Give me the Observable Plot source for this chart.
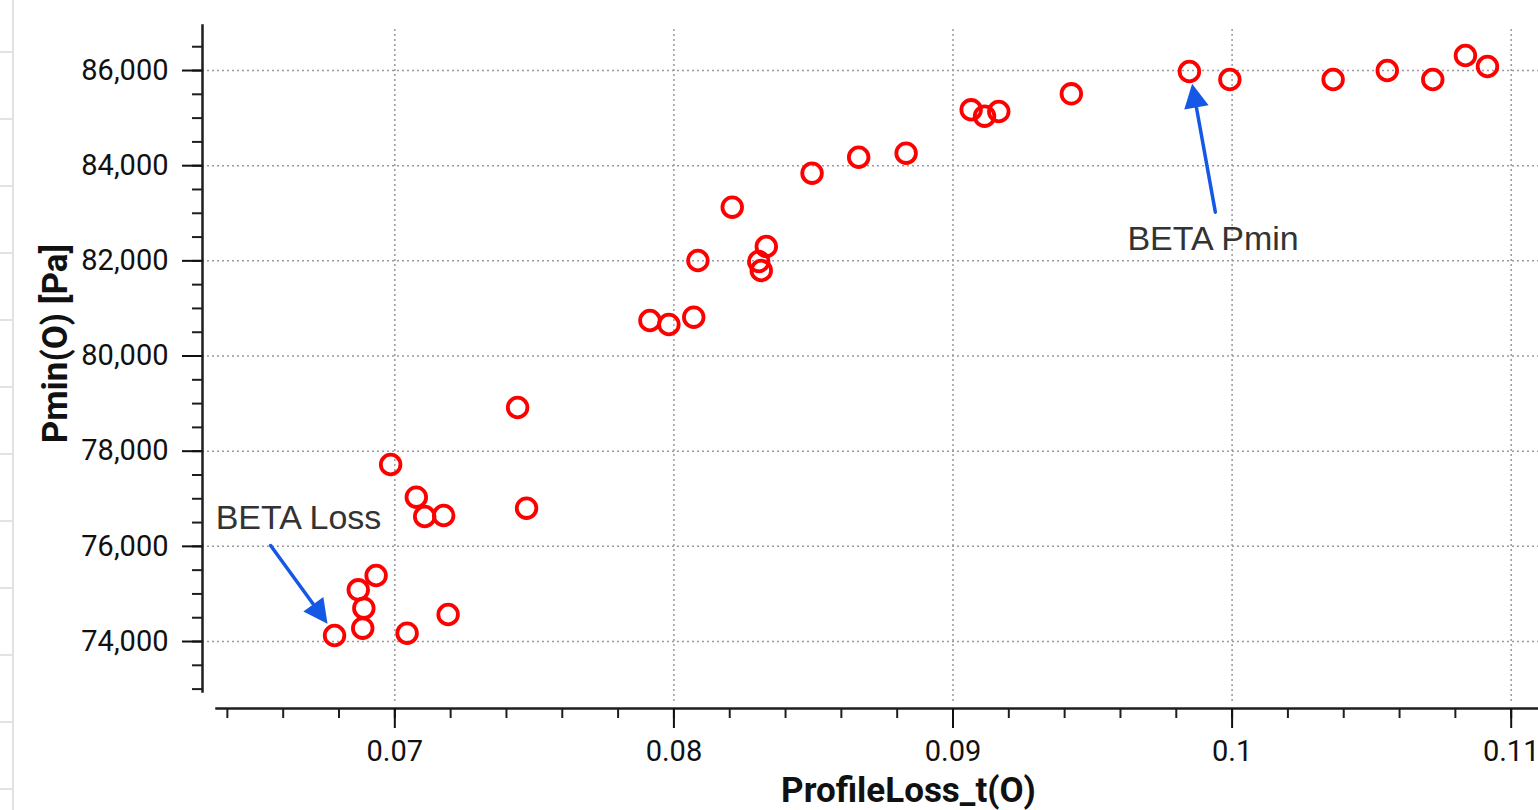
<!DOCTYPE html>
<html><head><meta charset="utf-8">
<script src="https://cdn.jsdelivr.net/npm/d3@7"></script>
<script src="https://cdn.jsdelivr.net/npm/@observablehq/plot@0.6"></script>
<style>
html,body{margin:0;padding:0;background:#fff;}
#wrap{position:relative;width:1538px;height:810px;overflow:hidden;}
#side{position:absolute;left:0;top:0;width:12px;height:810px;border-right:2px solid #e2e2e2;
  background-image:repeating-linear-gradient(to bottom, transparent 0 65px, #e2e2e2 65px 67px);
  background-position:0 -14px;}
</style></head>
<body><div id="wrap"><div id="chart"></div><div id="side"></div></div>
<script>
// ---- data ----
const profileLoss = [0.06784, 0.06885, 0.06889, 0.06869, 0.06933, 0.07044, 0.07191, 0.06985, 0.07077, 0.07107,
  0.07175, 0.07440, 0.07472, 0.07914, 0.07982, 0.08071, 0.08086, 0.08209, 0.08313, 0.08304,
  0.08331, 0.08495, 0.08662, 0.08832, 0.09065, 0.09113, 0.09164, 0.09424, 0.09847, 0.09992,
  0.10362, 0.10556, 0.10719, 0.10836, 0.10915];
const pmin = [74126, 74280, 74700, 75087, 75387, 74175, 74568, 77720, 77033, 76627,
  76648, 78918, 76802, 80747, 80662, 80816, 82007, 83128, 81797, 81986,
  82302, 83842, 84178, 84263, 85175, 85040, 85139, 85511, 85979, 85811,
  85811, 86000, 85811, 86316, 86085];

const xMajorTicks = [0.07, 0.08, 0.09, 0.1, 0.11];
const xMinorTicks = d3.range(32, 56).map(i => +(i * 0.002).toFixed(3));
const yMajorTicks = [74000, 76000, 78000, 80000, 82000, 84000, 86000];
const yMinorTicks = d3.range(146, 174).map(i => i * 500);

const annotationText = ["BETA Loss", "BETA Pmin"];
const labelX = [0.06358, 0.09625];
const labelY = [76375, 82218];
const arrowFromX = [0.06555, 0.09940];
const arrowFromY = [76018, 83023];
const arrowToX = [0.06755, 0.09858];
const arrowToY = [74406, 85685];

const xLabel = "ProfileLoss_t(O)";
const yLabel = "Pmin(O) [Pa]";

// ---- layout ----
const W = 1538, H = 810;
const xDomain = [0.0636, 0.111], xRange = [215.7, 1538.6];
const yDomain = [73000, 86900], yRange = [688.6, 27.2];

const points = profileLoss.map((x, i) => ({x, y: pmin[i]}));
const labels = annotationText.map((t, i) => ({text: t, x: labelX[i], y: labelY[i]}));
const arrows = annotationText.map((t, i) => ({x1: arrowFromX[i], y1: arrowFromY[i], x2: arrowToX[i], y2: arrowToY[i]}));

const sx = Plot.scale({x: {domain: xDomain, range: xRange}});
const sy = Plot.scale({y: {domain: yDomain, range: yRange}});

const arrowShape = {
  draw(context, l) {
    const h = 18.5, w = 9.5;
    context.moveTo(0, 0);
    context.lineTo(0, -l + h - 1);
    context.moveTo(0, -l);
    context.lineTo(w, -l + h);
    context.lineTo(-w, -l + h);
    context.closePath();
  }
};

const blue = "#1558e6";
const axisColor = "#1e1e1e";
const gridStyle = {stroke: "#9a9a9a", strokeOpacity: 1, strokeWidth: 1.5, strokeDasharray: "2,3"};

const arrowMarks = arrows.map(a => {
  const dx = sx.apply(a.x2) - sx.apply(a.x1);
  const dy = sy.apply(a.y2) - sy.apply(a.y1);
  const len = Math.hypot(dx, dy) - 2;
  const rot = Math.atan2(dx, -dy) * 180 / Math.PI;
  return Plot.vector([a], {x: "x1", y: "y1", length: len, rotate: rot, anchor: "start",
    shape: arrowShape, stroke: blue, fill: blue, strokeWidth: 3.5, strokeLinejoin: "miter"});
});

const chart = Plot.plot({
  width: W, height: H,
  marginLeft: 202, marginRight: 0, marginTop: 25, marginBottom: 102,
  style: {fontFamily: "Roboto, sans-serif", background: "transparent", overflow: "visible"},
  x: {domain: xDomain, range: xRange},
  y: {domain: yDomain, range: yRange},
  marks: [
    Plot.gridX({ticks: xMajorTicks, ...gridStyle, insetTop: 4, insetBottom: 6}),
    Plot.gridY({ticks: yMajorTicks, ...gridStyle}),
    Plot.frame({anchor: "bottom", insetLeft: 14, stroke: axisColor, strokeWidth: 2.5}),
    Plot.frame({anchor: "left", insetBottom: 17, stroke: axisColor, strokeWidth: 2.5}),
    Plot.axisX({ticks: xMinorTicks, tickSize: 10, text: null, color: axisColor, strokeWidth: 2}),
    Plot.axisX({ticks: xMajorTicks, tickSize: 20, tickPadding: 12, color: "#111", strokeWidth: 2,
      fontSize: 29, tickFormat: d => String(+d.toFixed(3)), label: null}),
    Plot.axisY({ticks: yMinorTicks, tickSize: 10, text: null, color: axisColor, strokeWidth: 2}),
    Plot.axisY({ticks: yMajorTicks, tickSize: 20, tickPadding: 14, color: "#111", strokeWidth: 2,
      fontSize: 29, tickFormat: d3.format(","), label: null}),
    Plot.dot(points, {x: "x", y: "y", r: 9.8, stroke: "#ff0000", strokeWidth: 3.8, fill: "none"}),
    ...arrowMarks,
    Plot.text(labels, {x: "x", y: "y", text: "text", textAnchor: "start", lineAnchor: "bottom",
      fontSize: 34, fontFamily: "Liberation Sans, Arial, sans-serif", fill: "#333"}),
    Plot.text([xLabel], {text: d => d, frameAnchor: "bottom", dx: 38, dy: 93, lineAnchor: "bottom",
      fontSize: 35, fontWeight: "bold", fill: "#111"}),
    Plot.text([yLabel], {text: d => d, frameAnchor: "left", dx: -147, dy: -23.5, rotate: -90,
      lineAnchor: "middle", textAnchor: "middle", fontSize: 35, fontWeight: "bold", fill: "#111"})
  ]
});
document.getElementById("chart").appendChild(chart);
</script></body></html>
